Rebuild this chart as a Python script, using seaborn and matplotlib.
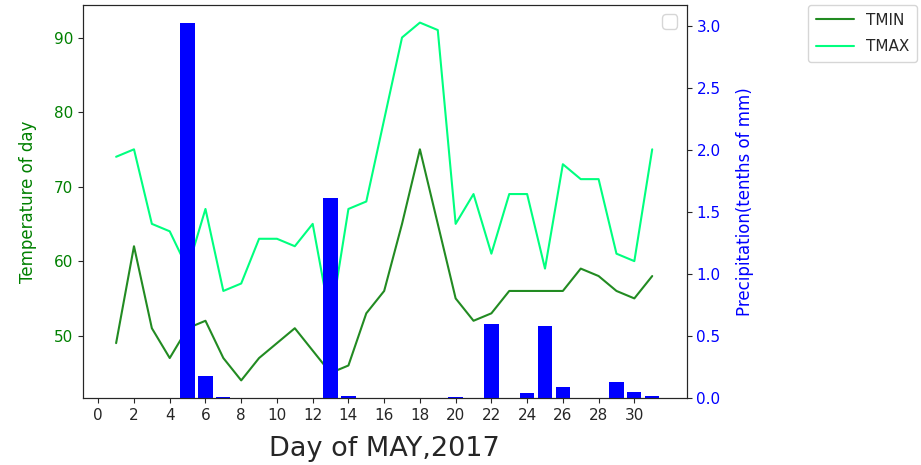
import matplotlib
matplotlib.use("Agg")
import matplotlib.pyplot as plt
import seaborn as sns
import numpy as np
import pandas as pd

# ---- data ----
days = list(range(1, 32))
tmin = [49, 62, 51, 47, 51, 52, 47, 44, 47, 49, 51, 48, 45, 46, 53, 56,
        65, 75, 65, 55, 52, 53, 56, 56, 56, 56, 59, 58, 56, 55, 58]
tmax = [74, 75, 65, 64, 59, 67, 56, 57, 63, 63, 62, 65, 52, 67, 68, 79,
        90, 92, 91, 65, 69, 61, 69, 69, 59, 73, 71, 71, 61, 60, 75]
prcp = [0, 0, 0, 0, 3.02, 0.18, 0.01, 0, 0, 0, 0, 0, 1.61, 0.02, 0, 0,
        0, 0, 0, 0.01, 0, 0.60, 0, 0.04, 0.58, 0.09, 0, 0, 0.13, 0.05, 0.02]
xticks = list(range(0, 31, 2))

df = pd.DataFrame({"day": days, "TMIN": tmin, "TMAX": tmax, "PRCP": prcp})

sns.set_style("ticks")
plt.rcParams["font.family"] = ["DejaVu Sans"]

W, H = 921, 465
fig = plt.figure(figsize=(W / 100, H / 100), dpi=100)
ax1 = fig.add_axes([82.7 / W, 1 - 398.3 / H, (686.7 - 82.7) / W, (398.3 - 4.7) / H])

sns.lineplot(data=df, x="day", y="TMIN", ax=ax1, color="forestgreen", linewidth=1.5, label="TMIN")
sns.lineplot(data=df, x="day", y="TMAX", ax=ax1, color="springgreen", linewidth=1.5, label="TMAX")
handles, labels = ax1.get_legend_handles_labels()
if ax1.get_legend() is not None:
    ax1.get_legend().remove()

ax2 = ax1.twinx()
sns.barplot(data=df, x="day", y="PRCP", ax=ax2, native_scale=True, color="blue",
            saturation=1, width=0.8, linewidth=0)

ax1.set_xlim(-0.87, 32.93)
ax1.set_ylim(41.6, 94.4)
ax2.set_ylim(0, 3.171)
ax1.set_xticks(xticks)
ax1.set_xticklabels([str(t) for t in xticks])
ax2.set_yticks([0, 0.5, 1.0, 1.5, 2.0, 2.5, 3.0])

ax1.set_xlabel("Day of MAY,2017", fontsize=19.5, color=".15", labelpad=9)
ax1.set_ylabel("Temperature of day", fontsize=12, color="g", labelpad=12)
ax2.set_ylabel("Precipitation(tenths of mm)", fontsize=12, color="b", labelpad=11)
ax1.tick_params(axis="y", colors="g", labelsize=11)
ax1.tick_params(axis="x", labelsize=11)
ax2.tick_params(axis="y", colors="b", labelsize=11)
for ax in (ax1, ax2):
    for s in ax.spines.values():
        s.set_visible(True)
        s.set_color(".15")
ax1.tick_params(axis="both", color=".15")
ax2.tick_params(axis="y", color=".15")

# empty legend on the twin axes
ax2.legend(handles=[], labels=[], loc="upper right", fontsize=13.5)

fig.legend(handles, labels, loc="upper left", bbox_to_anchor=(808.3 / W, 1 - 5 / H),
           borderaxespad=0, fontsize=11, handlelength=2.5, handletextpad=0.8,
           labelspacing=0.75, borderpad=0.5, frameon=True)

fig.savefig("out.png", dpi=100)
